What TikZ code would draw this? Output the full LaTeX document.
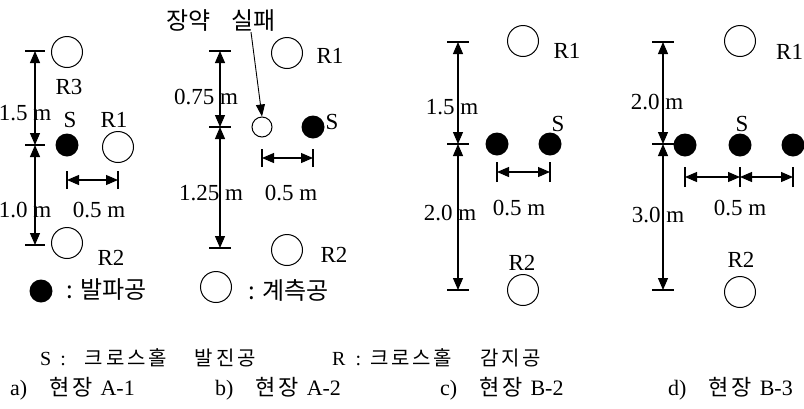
\documentclass[tikz,border=0pt]{standalone}
\usepackage{fontspec}
\setmainfont{Liberation Serif}
\newfontfamily\cjk{Noto Sans CJK KR}
\newfontfamily\cjkw[LetterSpace=14]{Noto Sans CJK KR}
\usetikzlibrary{arrows.meta}

\begin{document}
\begin{tikzpicture}[
  x=1pt, y=-1pt,
  font=\fontsize{23}{27}\selectfont,
  dim/.style={arrows={Triangle[length=12pt,width=10pt]-Triangle[length=12pt,width=10pt]}, line width=1.1pt},
  tck/.style={line width=1.1pt},
  ptr/.style={arrows={-Triangle[length=12pt,width=9pt]}, line width=0.9pt},
  rhole/.style={draw, circle, line width=1pt, minimum size=31pt, inner sep=0pt},
  shole/.style={circle, fill=black, minimum size=23pt, inner sep=0pt},
  lbl/.style={inner sep=0pt},
  kor/.style={inner sep=0pt, font=\cjk\fontsize{24}{28}\selectfont},
  captxt/.style={inner sep=0pt, anchor=west},
]
\clip (0,0) rectangle (804,408);

% a) site A-1
\coordinate (aT) at (35,51);
\coordinate (aM) at (35,145);
\coordinate (aB) at (35,245);
\coordinate (aHL) at (67,180);
\coordinate (aHR) at (118,180);
\node[rhole] (aR3) at (67,52) {};
\node[shole] (aS) at (67,145) {};
\node[rhole] (aR1) at (118,147) {};
\node[rhole] (aR2) at (67,243) {};
\node[lbl] (aR3l) at (69,87) {R3};
\node[lbl] (aSl) at (70,120) {S};
\node[lbl] (aR1l) at (114,120) {R1};
\node[lbl] (aR2l) at (111,258) {R2};
\draw[dim] (aT) -- (aM);
\draw[dim] (aM) -- (aB);
\draw[dim] (aHL) -- (aHR);
\foreach \p in {aT,aM,aB}
  \draw[tck] ([xshift=-10pt]\p) -- ([xshift=10pt]\p);
\foreach \p in {aHL,aHR}
  \draw[tck] ([yshift=-9pt]\p) -- ([yshift=9pt]\p);
\node[lbl] (ad1) at (25,113) {1.5 m};
\node[lbl] (ad2) at (25,210) {1.0 m};
\node[lbl] (ad3) at (99,210) {0.5 m};
% legend
\node[shole] (lgS) at (41,291) {};
\node[kor, anchor=west] (lgSt) at (66,290) {: 발파공};

% b) site A-2
\coordinate (bT) at (220,51);
\coordinate (bM) at (220,127);
\coordinate (bB) at (220,248);
\coordinate (bHL) at (262,158);
\coordinate (bHR) at (313,158);
\node[rhole] (bR1) at (287,53) {};
\node[rhole, minimum size=20pt] (bF) at (262,127) {};
\node[shole] (bS) at (313,127) {};
\node[rhole] (bR2) at (287,250) {};
\node[lbl] (bR1l) at (330,56) {R1};
\node[lbl] (bSl) at (332,122) {S};
\node[lbl] (bR2l) at (334,255) {R2};
\draw[dim] (bT) -- (bM);
\draw[dim] (bM) -- (bB);
\draw[dim] (bHL) -- (bHR);
\foreach \p in {bT,bM,bB}
  \draw[tck] ([xshift=-11pt]\p) -- ([xshift=11pt]\p);
\foreach \p in {bHL,bHR}
  \draw[tck] ([yshift=-9pt]\p) -- ([yshift=9pt]\p);
\node[lbl] (bd1) at (206,97) {0.75 m};
\node[lbl] (bd2) at (211,193) {1.25 m};
\node[lbl] (bd3) at (291,193) {0.5 m};
\node[kor] (bFl) at (221,21) {장약\hspace{0.85em}실패};
\draw[ptr] ([xshift=30pt]bFl.south) -- (bF.north);
% legend
\node[rhole] (lgR) at (216,287) {};
\node[kor, anchor=west] (lgRt) at (248,290) {: 계측공};

% c) site B-2
\coordinate (cT) at (458,42);
\coordinate (cM) at (458,144);
\coordinate (cB) at (458,290);
\coordinate (cHL) at (497,172);
\coordinate (cHR) at (550,172);
\node[rhole] (cR1) at (523,41) {};
\node[shole] (cS1) at (497,144) {};
\node[shole] (cS2) at (550,144) {};
\node[rhole] (cR2) at (523,290) {};
\node[lbl] (cR1l) at (567,51) {R1};
\node[lbl] (cSl) at (558,124) {S};
\node[lbl] (cR2l) at (522,263) {R2};
\draw[dim] (cT) -- (cM);
\draw[dim] (cM) -- (cB);
\draw[dim] (cHL) -- (cHR);
\foreach \p in {cT,cM,cB}
  \draw[tck] ([xshift=-11pt]\p) -- ([xshift=11pt]\p);
\foreach \p in {cHL,cHR}
  \draw[tck] ([yshift=-10pt]\p) -- ([yshift=10pt]\p);
\node[lbl] (cd1) at (452,107) {1.5 m};
\node[lbl] (cd2) at (450,213) {2.0 m};
\node[lbl] (cd3) at (519,208) {0.5 m};

% d) site B-3
\coordinate (dT) at (663,42);
\coordinate (dM) at (663,144);
\coordinate (dB) at (663,290);
\coordinate (dHL) at (685,177);
\coordinate (dHC) at (740,177);
\coordinate (dHR) at (793,177);
\node[rhole] (dR1) at (740,41) {};
\node[shole] (dS1) at (685,145) {};
\node[shole] (dS2) at (740,145) {};
\node[shole] (dS3) at (793,145) {};
\node[rhole] (dR2) at (740,292) {};
\node[lbl, anchor=west] (dR1l) at (776,52) {R1};
\node[lbl] (dSl) at (742,124) {S};
\node[lbl] (dR2l) at (741,260) {R2};
\draw[dim] (dT) -- (dM);
\draw[dim] (dM) -- (dB);
\draw[dim] (dHL) -- (dHC);
\draw[dim] (dHC) -- (dHR);
\foreach \p in {dT,dM,dB}
  \draw[tck] ([xshift=-11pt]\p) -- ([xshift=11pt]\p);
\foreach \p in {dHL,dHC,dHR}
  \draw[tck] ([yshift=-10pt]\p) -- ([yshift=10pt]\p);
\node[lbl] (dd1) at (657,102) {2.0 m};
\node[lbl] (dd2) at (658,215) {3.0 m};
\node[lbl] (dd3) at (740,208) {0.5 m};

% captions
\begin{scope}[font=\fontsize{20}{24}\selectfont]
\node[captxt] (capS) at (40,358) {S\hspace{0.45em}:\hspace{0.95em}{\cjkw 크로스홀\hspace{1.4em}발진공}};
\node[captxt] (capR) at (332,358) {R\hspace{0.5em}:\hspace{0.45em}{\cjkw 크로스홀\hspace{1.4em}감지공}};
\end{scope}
\begin{scope}[font=\fontsize{22}{26}\selectfont]
\node[captxt] (capa) at (10,389) {a)\hspace{1em}{\cjkw 현장}\hspace{0.35em}A-1};
\node[captxt] (capb) at (215,389) {b)\hspace{1em}{\cjkw 현장}\hspace{0.35em}A-2};
\node[captxt] (capc) at (440,389) {c)\hspace{1em}{\cjkw 현장}\hspace{0.35em}B-2};
\node[captxt] (capd) at (668,389) {d)\hspace{1em}{\cjkw 현장}\hspace{0.35em}B-3};
\end{scope}
\end{tikzpicture}
\end{document}
